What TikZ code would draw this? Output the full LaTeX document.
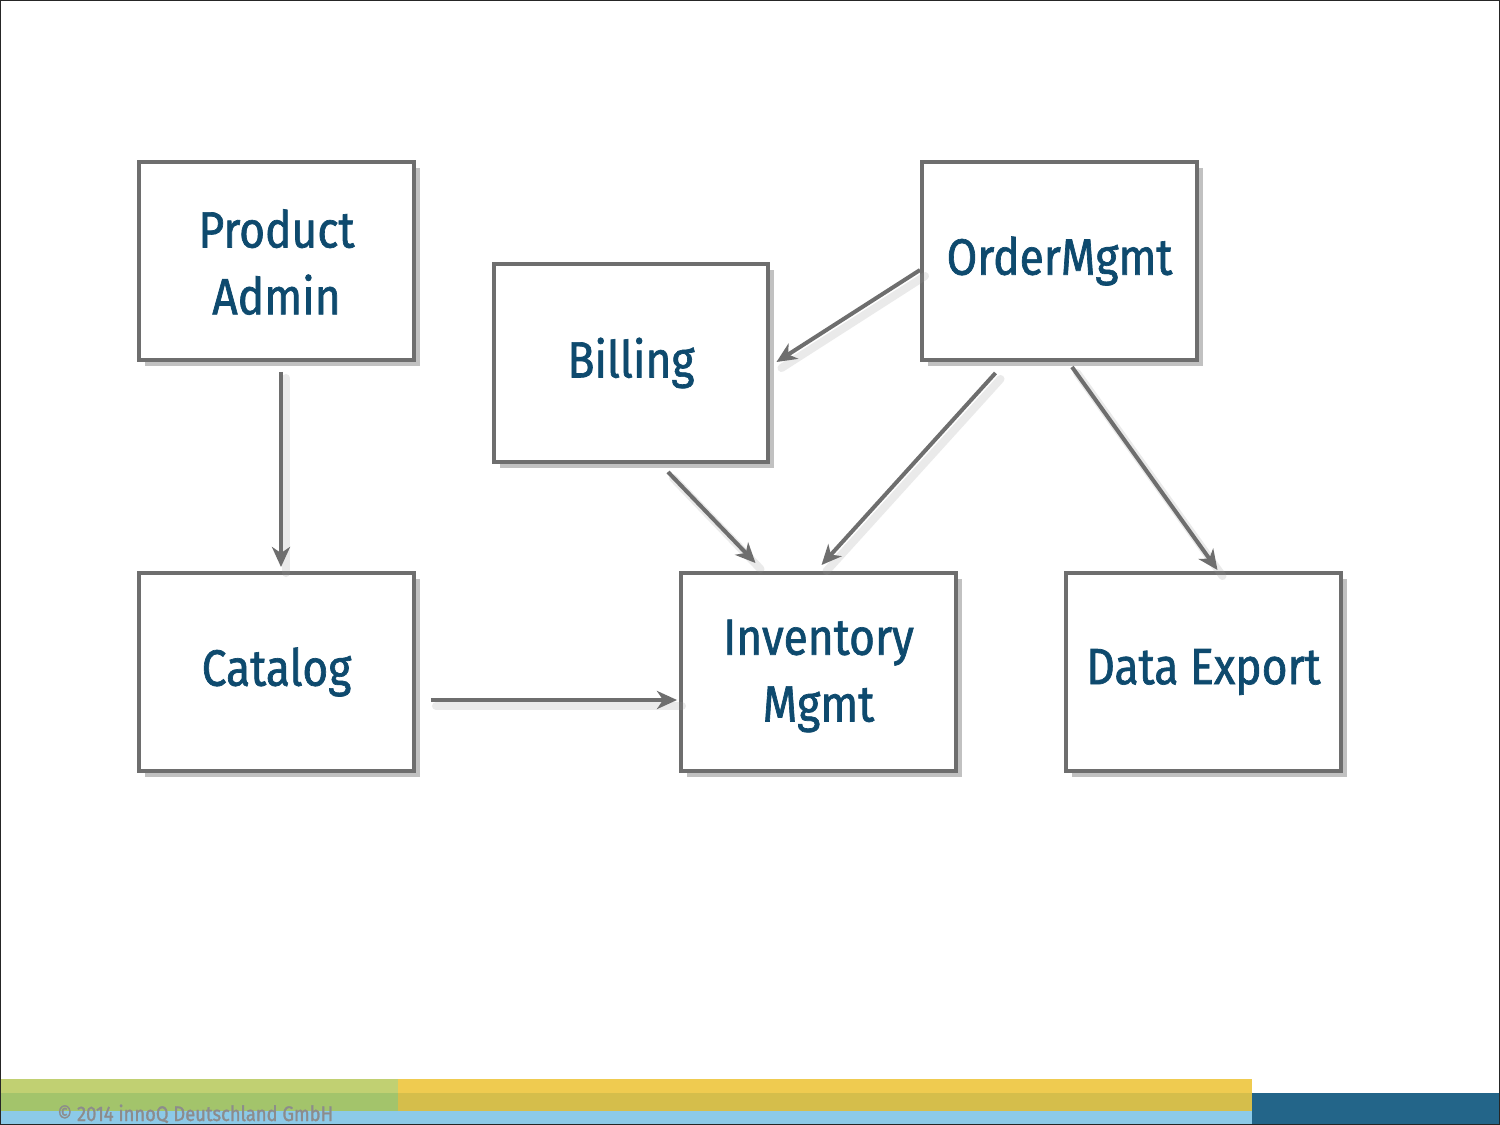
\documentclass[tikz,border=0pt]{standalone}
\usepackage{fontspec}
\setmainfont{Fira Sans}[FakeStretch=0.87]
\newfontfamily\boxfont{Fira Sans}[FakeStretch=0.87, FakeBold=1.3]
\usetikzlibrary{arrows.meta,shadows,calc}
\definecolor{txtblue}{HTML}{0E4A6E}
\definecolor{linegray}{HTML}{6E6E6E}
\definecolor{gA}{HTML}{C1D072}
\definecolor{gB}{HTML}{A3C46B}
\definecolor{yA}{HTML}{EFCB50}
\definecolor{yB}{HTML}{D5BE4B}
\definecolor{lblue}{HTML}{8CCAE8}
\definecolor{dblue}{HTML}{236589}
\tikzset{
  box/.style={draw=linegray, line width=0.08cm, fill=white,
    minimum width=5.5cm, minimum height=3.96cm, inner sep=0pt,
    text=txtblue, align=center, font=\boxfont\fontsize{29}{38}\selectfont,
    drop shadow={shadow xshift=0.12cm, shadow yshift=-0.12cm, opacity=0.4, fill=black!60}},
  conn/.style={draw=linegray, line width=0.08cm,
    -{Stealth[length=0.4cm,width=0.36cm,inset=0.12cm]}},
  connshadow/.style={draw=black!40, line width=0.16cm, opacity=0.2, line cap=round,
    transform canvas={xshift=0.1cm,yshift=-0.12cm}}
}
\begin{document}
\begin{tikzpicture}[x=0.02cm,y=-0.02cm]
\useasboundingbox (0,0) rectangle (1500,1125);
\fill[white] (0,0) rectangle (1500,1125);
% bottom bars
\fill[gA] (0,1079) rectangle (398,1093);
\fill[gB] (0,1093) rectangle (398,1111);
\fill[yA] (398,1079) rectangle (1252,1093);
\fill[yB] (398,1093) rectangle (1252,1111);
\fill[lblue] (0,1111) rectangle (1252,1124);
\fill[dblue] (1252,1093) rectangle (1500,1124);
\node[anchor=base west, inner sep=0pt, text=black!45, font=\boxfont\fontsize{12}{14}\selectfont] (copy) at (57,1121) {© 2014 innoQ Deutschland GmbH};
\draw[black!85, line width=0.5pt] (0.5,0.5) rectangle (1499,1124.5);

% nodes
\node[box] (pa) at (276.5,261) {\rule{0pt}{23pt}Product\\Admin};
\node[box] (bill) at (631,363) {Billing};
\node[box] (om) at (1059.5,261) {OrderMgmt};
\node[box] (cat) at (276.5,672) {Catalog};
\node[box] (inv) at (818.5,672) {\rule{0pt}{24.5pt}Inventory\\Mgmt};
\node[box] (de) at (1203.5,672) {Data Export};

% connector endpoints
\coordinate (paS) at ($(pa.south)+(4.5,10)$);
\coordinate (catN) at ($(cat.north)+(4.5,-4)$);
\coordinate (catE) at ($(cat.east)+(15,28)$);
\coordinate (invW) at ($(inv.west)+(-2,28)$);
\coordinate (omW) at ($(om.west)+(0,9)$);
\coordinate (billE) at ($(bill.east)+(6,-1)$);
\coordinate (billS) at ($(bill.south)+(37,8)$);
\coordinate (invNa) at ($(inv.north)+(-63,-8)$);
\coordinate (omSa) at ($(om.south)+(-64,11)$);
\coordinate (invNb) at ($(inv.north)+(3,-6)$);
\coordinate (omSb) at ($(om.south)+(12.5,5)$);
\coordinate (deN) at ($(de.north)+(14,-1)$);

% connector shadows
\draw[connshadow] (paS) -- (catN);
\draw[connshadow] (catE) -- (invW);
\draw[connshadow] (omW) -- (billE);
\draw[connshadow] (billS) -- (invNa);
\draw[connshadow] (omSa) -- (invNb);
\draw[connshadow] (omSb) -- (deN);

% connectors
\draw[conn] (paS) -- (catN);
\draw[conn] (catE) -- (invW);
\draw[conn] (omW) -- (billE);
\draw[conn] (billS) -- (invNa);
\draw[conn] (omSa) -- (invNb);
\draw[conn] (omSb) -- (deN);
\end{tikzpicture}
\end{document}
